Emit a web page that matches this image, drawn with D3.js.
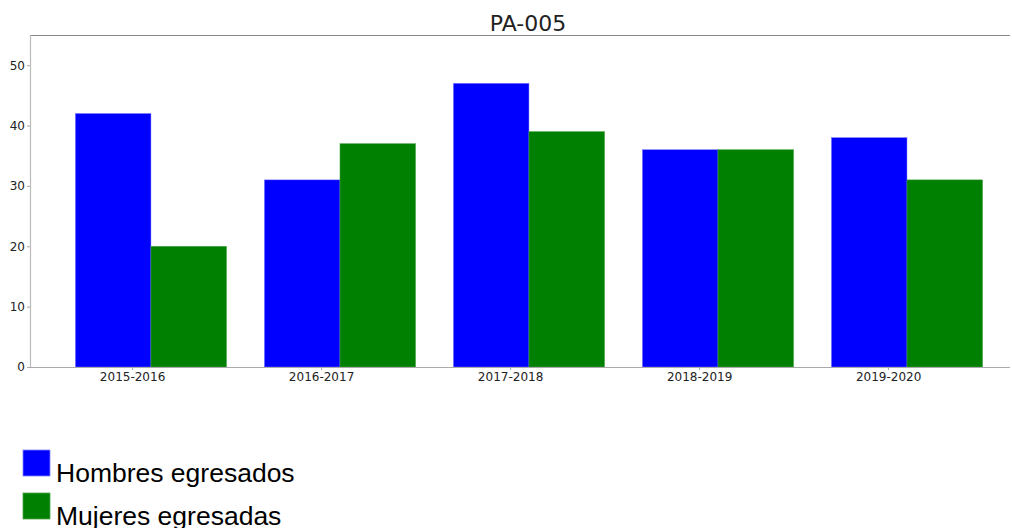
<!DOCTYPE html>
<html><head><meta charset="utf-8">
<script src="https://cdn.jsdelivr.net/npm/d3@7"></script>
<style>body{margin:0;background:#fff}</style>
</head><body>
<svg id="c" width="1012" height="528"></svg>
<script>
const categories = ["2015-2016","2016-2017","2017-2018","2018-2019","2019-2020"];
const hombres = [42,31,47,36,38];
const mujeres = [20,37,39,36,31];
const yTicks = [0,10,20,30,40,50];
const seriesNames = ["Hombres egresados","Mujeres egresadas"];
const seriesColors = ["#0000ff","#008000"];

const svg = d3.select("#c");
const L=30, R=1010, T=35, B=367;
const x = d3.scaleLinear().domain([-0.24, 4.945]).range([L, R]);
const y = d3.scaleLinear().domain([0,55]).range([B, T]);
const bw = 0.4;

const series=[hombres, mujeres];
series.forEach((vals, s)=>{
  svg.append("g").selectAll("rect").data(vals).join("rect")
    .attr("x",(d,i)=>x(i+s*bw))
    .attr("width",x(bw)-x(0))
    .attr("y",d=>y(d))
    .attr("height",d=>y(0)-y(d))
    .attr("fill",seriesColors[s])
    .attr("stroke", s===0?"#8080ff":"#4da64d").attr("stroke-width",0.5);
});

svg.append("line").attr("x1",L).attr("x2",R).attr("y1",T+0.5).attr("y2",T+0.5).attr("stroke","#888");
svg.append("line").attr("x1",L+0.5).attr("x2",L+0.5).attr("y1",T).attr("y2",B).attr("stroke","#bbb").attr("stroke-width",1.2);
svg.append("line").attr("x1",L).attr("x2",R).attr("y1",B+0.5).attr("y2",B+0.5).attr("stroke","#aaa").attr("stroke-width",1.2);

const yAxis = d3.axisLeft(y).tickValues(yTicks).tickSize(3).tickPadding(2);
const gy = svg.append("g").attr("transform",`translate(${L},0)`).call(yAxis);
gy.select(".domain").remove();
gy.selectAll("line").attr("stroke","#aaa");
gy.selectAll("text").attr("font-family","DejaVu Sans").attr("font-size","12px").attr("fill","#222");

const xAxis = d3.axisBottom(x).tickValues(categories.map((c,i)=>i+0.3)).tickFormat((d,i)=>categories[i]).tickSize(3).tickPadding(2);
const gx = svg.append("g").attr("transform",`translate(0,${B})`).call(xAxis);
gx.select(".domain").remove();
gx.selectAll("line").attr("stroke","#aaa");
gx.selectAll("text").attr("font-family","DejaVu Sans").attr("font-size","12px").attr("fill","#222");

svg.append("text").attr("x",528).attr("y",31).attr("text-anchor","middle")
  .attr("font-family","DejaVu Sans").attr("font-size","22px").attr("fill","#222").text("PA-005");

seriesNames.forEach((n,i)=>{
  const yy = 450 + i*43;
  svg.append("rect").attr("x",23).attr("y",yy).attr("width",27).attr("height",26)
    .attr("fill",seriesColors[i]).attr("stroke", i===0?"#8080ff":"#4da64d").attr("stroke-width",0.8);
  svg.append("text").attr("x",56).attr("y",yy+32).attr("font-family","Liberation Sans, Arial").attr("font-size","26.5px").attr("fill","#000").text(n);
});
</script>
</body></html>
